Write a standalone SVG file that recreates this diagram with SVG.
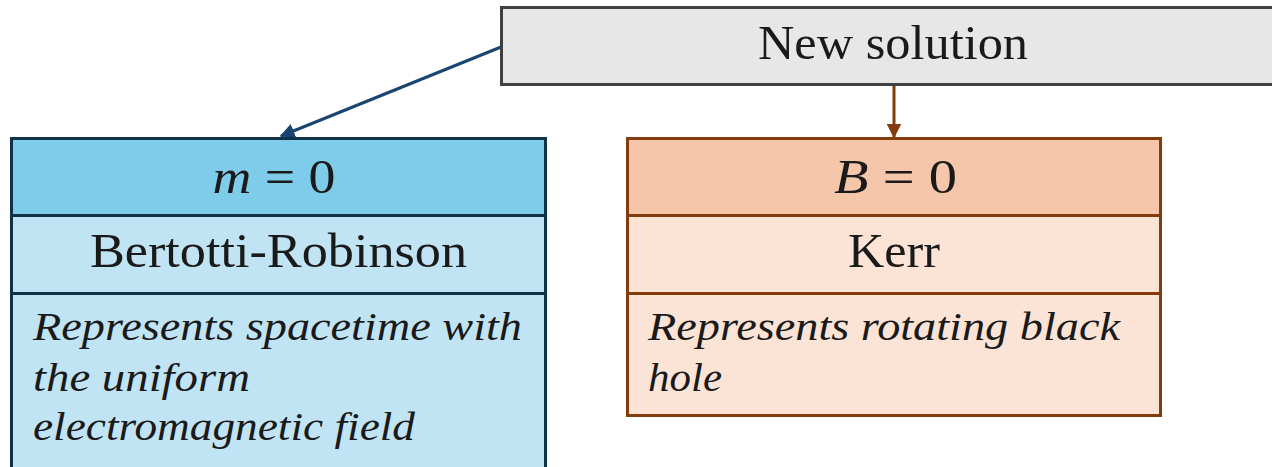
<svg xmlns="http://www.w3.org/2000/svg" width="1272" height="467" viewBox="0 0 1272 467">
  <style>
    .roman { font-family: "Liberation Serif", "DejaVu Serif", serif; font-size: 48px; fill: #1a1a1a; text-anchor: middle; }
    .desc { font-family: "Liberation Serif", "DejaVu Serif", serif; font-size: 40px; font-style: italic; fill: #1a1a1a; }
    .it { font-style: italic; }
    .blue-box { stroke: #0f3249; stroke-width: 3; }
    .orange-box { stroke: #843c0c; stroke-width: 3; }
  </style>
  <defs>
    <marker id="arrow-blue" viewBox="0 0 10 10" refX="9" refY="5" markerWidth="5" markerHeight="5" orient="auto" markerUnits="strokeWidth">
      <path d="M0,0 L10,5 L0,10 z" fill="#1a4570"/>
    </marker>
    <marker id="arrow-orange" viewBox="0 0 10 10" refX="9" refY="5" markerWidth="5" markerHeight="5" orient="auto" markerUnits="strokeWidth">
      <path d="M0,0 L10,5 L0,10 z" fill="#843c0c"/>
    </marker>
  </defs>

  <rect width="1272" height="467" fill="#ffffff"/>

  <!-- connectors -->
  <g id="connectors" fill="none" stroke-width="3">
    <line x1="501" y1="47" x2="281" y2="136" stroke="#1a4570" marker-end="url(#arrow-blue)"/>
    <line x1="894" y1="86" x2="894" y2="137" stroke="#843c0c" marker-end="url(#arrow-orange)"/>
  </g>

  <!-- source node -->
  <g id="new-solution">
    <rect x="501.5" y="7.5" width="790" height="77" fill="#e7e7e7" stroke="#404040" stroke-width="3"/>
    <text class="roman" x="893" y="59" textLength="270" lengthAdjust="spacingAndGlyphs">New solution</text>
  </g>

  <!-- m = 0 branch -->
  <g id="bertotti-robinson">
    <rect x="11.5" y="138.5" width="534" height="77" fill="#7fcbea" class="blue-box"/>
    <rect x="11.5" y="215.5" width="534" height="270" fill="#c1e4f4" class="blue-box"/>
    <line x1="11.5" y1="293.5" x2="545.5" y2="293.5" class="blue-box"/>
    <text class="roman" x="274" y="193" textLength="123" lengthAdjust="spacingAndGlyphs"><tspan class="it">m</tspan> = 0</text>
    <text class="roman" x="278.5" y="267" textLength="377" lengthAdjust="spacingAndGlyphs">Bertotti-Robinson</text>
    <text class="desc" x="33" y="340" textLength="489" lengthAdjust="spacingAndGlyphs">Represents spacetime with</text>
    <text class="desc" x="33" y="391" textLength="217" lengthAdjust="spacingAndGlyphs">the uniform</text>
    <text class="desc" x="33" y="440" textLength="382" lengthAdjust="spacingAndGlyphs">electromagnetic field</text>
  </g>

  <!-- B = 0 branch -->
  <g id="kerr">
    <rect x="627.5" y="138.5" width="533" height="77" fill="#f5c6aa" class="orange-box"/>
    <rect x="627.5" y="215.5" width="533" height="200" fill="#fbe3d6" class="orange-box"/>
    <line x1="627.5" y1="293.5" x2="1160.5" y2="293.5" class="orange-box"/>
    <text class="roman" x="895.5" y="193" textLength="123" lengthAdjust="spacingAndGlyphs"><tspan class="it">B</tspan> = 0</text>
    <text class="roman" x="894" y="267" textLength="92" lengthAdjust="spacingAndGlyphs">Kerr</text>
    <text class="desc" x="648" y="340" textLength="472" lengthAdjust="spacingAndGlyphs">Represents rotating black</text>
    <text class="desc" x="648" y="391" textLength="74" lengthAdjust="spacingAndGlyphs">hole</text>
  </g>
</svg>
